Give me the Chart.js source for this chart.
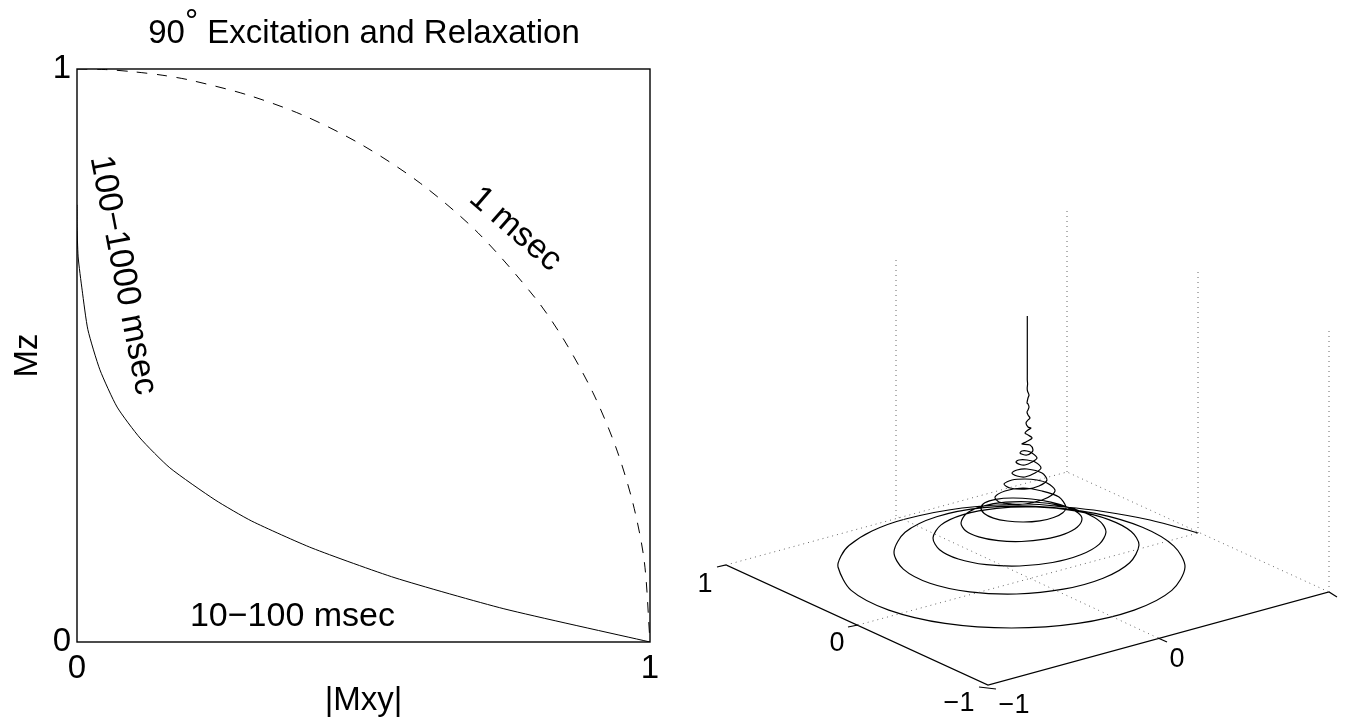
<!DOCTYPE html>
<html>
<head>
<meta charset="utf-8">
<script src="https://cdn.jsdelivr.net/npm/chart.js@4"></script>
<style>
html,body{margin:0;padding:0;background:#fff;overflow:hidden}
#wrap{position:relative;width:1346px;height:717px}
canvas{position:absolute;top:0}
#left{left:0}
#right{left:670px}
</style>
</head>
<body>
<div id="wrap"><canvas id="left" width="728" height="717"></canvas><canvas id="right" width="676" height="717"></canvas></div>
<script>
const FONT = 'Liberation Sans';
// Left panel values
const titleParts = ['90','°',' Excitation and Relaxation'];
const titleRaise = [0,11,0];
const xAxisTitle = '|Mxy|';
const yAxisTitle = 'Mz';
const fastMxy = [0,.05,.1,.15,.2,.3,.4,.5,.6,.7,.8,.85,.9,.94,.97,.99,1];
const fastMz  = [1,.999,.995,.989,.98,.954,.917,.866,.8,.714,.6,.527,.436,.341,.243,.141,0];
const slowMxy = [0,0,.002,.009,.019,.04,.07,.11,.162,.241,.305,.41,.555,.745,1];
const slowMz  = [.763,.731,.672,.614,.545,.475,.41,.356,.304,.248,.211,.164,.112,.058,0];
const noteText = ['100−1000 msec','1 msec','10−100 msec'];
const noteX = [.08,.765,.376];
const noteY = [.64,.72,.044];
const noteAngle = [79,41,0];

// Right panel values (projected horizontal / vertical position)
const spiralH = [1.71,1.23,.73,.38,0,-.65,-1.215,-1.55,-1.78,-1.86,-1.89,
 -1.758,-1.382,-.82,-.155,.51,1.072,1.448,1.58,
 1.469,1.154,.682,.125,-.432,-.904,-1.219,-1.33,
 -1.237,-.971,-.574,-.105,.364,.761,1.027,1.12,
 1.042,.818,.484,.09,-.304,-.638,-.862,-.94,
 -.874,-.687,-.406,-.075,.256,.537,.724,.79,
 .735,.578,.343,.065,-.213,-.448,-.605,-.66,
 -.614,-.483,-.287,-.055,.177,.373,.504,.55,
 .512,.402,.238,.045,-.148,-.312,-.422,-.46,
 -.428,-.336,-.198,-.035,.128,.266,.358,.39,
 .32,.15,-.04,-.22,-.32,-.28,-.15,-.02,.15,.25,.28,.20,.10,-.02,-.15,-.23,-.17,0,.12,.20,.15,0,-.10,-.15,-.10,-.02,.08,.14,.08,0,-.08,-.11,-.07,-.02,.05,.10,.05,0,-.05,-.07,-.04,0,.04,.06,.03,-.05,-.01,.05,.01,-.02,.01,.04,.01,-.01,.01,.03,.01,0,.01,.02,.01,0,.01,.02,.005,.002,.006,.003,.003,.003,.003,.003,.003,.003];
const spiralV = [.45,.58,.67,.71,.74,.70,.59,.47,.325,.22,.11,
 -.124,-.321,-.454,-.50,-.454,-.321,-.124,.11,
 .319,.507,.646,.715,.704,.613,.457,.26,
 .089,-.052,-.138,-.16,-.112,-.002,.153,.33,
 .465,.584,.671,.71,.697,.634,.529,.40,
 .283,.19,.133,.12,.155,.232,.339,.46,
 .561,.653,.724,.76,.758,.717,.645,.55,
 .472,.411,.373,.365,.389,.439,.51,.59,
 .65,.709,.758,.79,.80,.787,.752,.70,
 .645,.599,.57,.56,.572,.605,.653,.71,
 .81,.87,.90,.87,.81,.76,.74,.74,.78,.83,.88,.95,.98,.99,.98,.94,.90,.89,.92,.98,1.05,1.09,1.08,1.05,1.02,1.01,1.05,1.10,1.16,1.18,1.18,1.16,1.135,1.13,1.16,1.20,1.25,1.27,1.27,1.25,1.235,1.23,1.25,1.28,1.33,1.34,1.36,1.40,1.43,1.45,1.48,1.50,1.51,1.55,1.58,1.60,1.63,1.66,1.68,1.71,1.74,1.75,1.80,1.83,1.87,1.90,1.94,1.98,2.03,2.13,2.4,2.62];
const boxAxisH = [-3.10,-3.01,-.39,3.02,3.10];
const boxAxisV = [.11,.13,-1.07,-.14,-.19];
const tickSegments = [[[-.48,-1.09],[-.31,-1.11]],[[-1.69,-.47],[-1.79,-.49]],[[1.31,-.60],[1.40,-.64]]];
const gridSegments = [
  [[-3.01,.13],[.40,1.06],[3.02,-.14]],
  [[-1.69,-.47],[1.71,.45]],
  [[1.31,-.60],[-1.31,.62]],
  [[-1.31,.62],[-1.31,3.22]],
  [[.40,1.06],[.40,3.68]],
  [[1.71,.45],[1.71,3.08]],
  [[3.02,-.14],[3.02,2.48]]
];
const axisLabelText = ['1','0','−1','−1','0','1'];
const axisLabelH = [-3.22,-1.90,-.68,-.13,1.50,3.245];
const axisLabelV = [-.07,-.66,-1.26,-1.28,-.82,-.32];

const zip = (a,b)=>a.map((x,i)=>({x,y:b[i]}));
const pairs = s=>s.map(p=>({x:p[0],y:p[1]}));

const framePlugin = {id:'frame',afterDatasetsDraw(c){
  const a=c.chartArea,g=c.ctx;g.save();g.strokeStyle='#000';g.lineWidth=1.4;
  g.strokeRect(a.left,a.top,a.right-a.left,a.bottom-a.top);g.restore();
}};
const notesPlugin = {id:'notes',afterDatasetsDraw(c){
  const g=c.ctx;g.save();g.fillStyle='#000';g.font='34px "'+FONT+'"';g.textAlign='center';g.textBaseline='middle';
  noteText.forEach((t,i)=>{g.save();g.translate(c.scales.x.getPixelForValue(noteX[i]),c.scales.y.getPixelForValue(noteY[i]));
    g.rotate(noteAngle[i]*Math.PI/180);g.fillText(t,0,0);g.restore();});
  g.restore();
}};
const titlePlugin = {id:'raisedTitle',afterDraw(c){
  const g=c.ctx;g.save();g.fillStyle='#000';g.font='33px "'+FONT+'"';g.textAlign='left';g.textBaseline='alphabetic';
  const total=titleParts.reduce((s,t)=>s+g.measureText(t).width,0);
  let x=c.width/2-total/2;
  titleParts.forEach((t,i)=>{g.fillText(t,x,43-titleRaise[i]);x+=g.measureText(t).width;});
  g.restore();
}};

new Chart(document.getElementById('left'),{
  type:'scatter',
  data:{datasets:[
    {label:'1 msec',data:zip(fastMxy,fastMz),showLine:true,pointRadius:0,borderColor:'#000',borderWidth:1,borderDash:[10.5,9.5],tension:.3},
    {label:'10−1000 msec',data:zip(slowMxy,slowMz),showLine:true,pointRadius:0,borderColor:'#000',borderWidth:1,tension:.2}
  ]},
  options:{responsive:false,animation:false,devicePixelRatio:1,
    layout:{padding:{left:0,right:78,top:69,bottom:0}},
    plugins:{legend:{display:false},tooltip:{enabled:false}},
    scales:{
      x:{type:'linear',min:0,max:1,afterFit(s){s.height=75;},
        grid:{display:false,drawTicks:false},border:{display:false},
        ticks:{stepSize:1,color:'#000',padding:7,maxRotation:0,font:{family:FONT,size:33}},
        title:{display:true,text:xAxisTitle,color:'#000',font:{family:FONT,size:33,lineHeight:1},padding:{top:0,bottom:0}}},
      y:{type:'linear',min:0,max:1,afterFit(s){s.width=77;},
        grid:{display:false,drawTicks:false},border:{display:false},
        ticks:{stepSize:1,color:'#000',padding:6,font:{family:FONT,size:33}},
        title:{display:true,text:yAxisTitle,color:'#000',font:{family:FONT,size:33},padding:{top:8.5,bottom:0}}}
    }},
  plugins:[framePlugin,notesPlugin,titlePlugin]
});

const dsRight=[];
gridSegments.forEach(s=>dsRight.push({data:pairs(s),showLine:true,pointRadius:0,borderColor:'#666',borderWidth:1,borderDash:[1,4]}));
dsRight.push({data:zip(boxAxisH,boxAxisV),showLine:true,pointRadius:0,borderColor:'#000',borderWidth:1.2});
tickSegments.forEach(s=>dsRight.push({data:pairs(s),showLine:true,pointRadius:0,borderColor:'#000',borderWidth:1.2}));
dsRight.push({data:zip(spiralH,spiralV),showLine:true,pointRadius:0,borderColor:'#000',borderWidth:1.2,tension:.3});

const labelsPlugin = {id:'axisLabels',afterDatasetsDraw(c){
  const g=c.ctx;g.save();g.fillStyle='#000';g.font='27px "'+FONT+'"';g.textAlign='center';g.textBaseline='middle';
  axisLabelText.forEach((t,i)=>g.fillText(t,c.scales.x.getPixelForValue(axisLabelH[i]),c.scales.y.getPixelForValue(axisLabelV[i])));
  g.restore();
}};

new Chart(document.getElementById('right'),{
  type:'scatter',
  data:{datasets:dsRight},
  options:{responsive:false,animation:false,devicePixelRatio:1,
    layout:{padding:0},
    plugins:{legend:{display:false},tooltip:{enabled:false}},
    scales:{
      x:{type:'linear',display:false,min:-3.57,max:3.19},
      y:{type:'linear',display:false,min:-1.39,max:5.78}
    }},
  plugins:[labelsPlugin]
});
</script>
</body>
</html>
